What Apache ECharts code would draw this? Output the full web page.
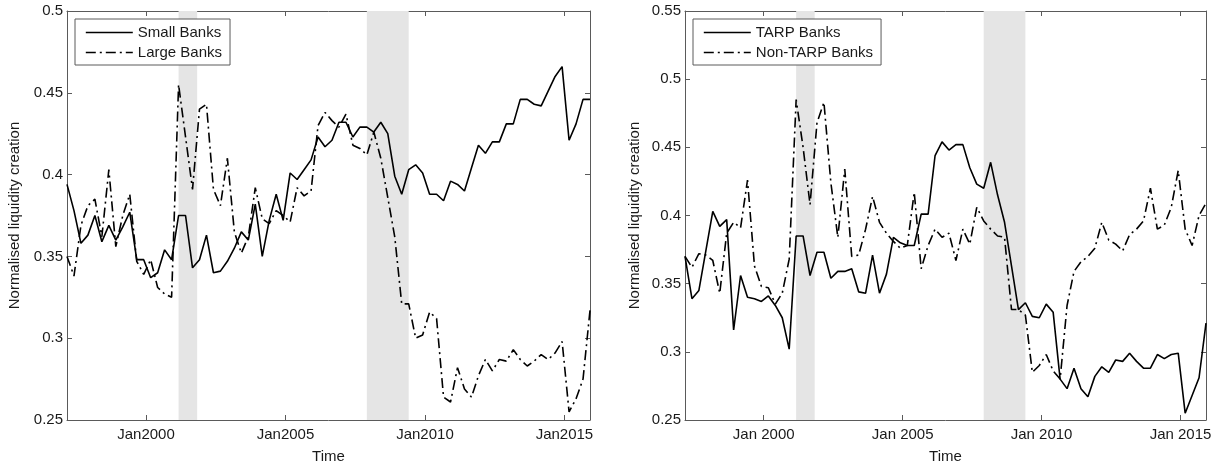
<!DOCTYPE html>
<html>
<head>
<meta charset="utf-8">
<script src="https://cdn.jsdelivr.net/npm/echarts@6/dist/echarts.min.js"></script>
<style>
html,body{margin:0;padding:0;background:#fff;}
#chart{width:1217px;height:469px;}
</style>
</head>
<body>
<div id="chart"></div>
<script>
// Quarterly observations, 1997Q1 (Mar 1997) .. 2015Q4 (Dec 2015)
const firstYear = 1997, firstMonth = 3, nQuarters = 76;

const tickYears = [2000, 2005, 2010, 2015];
const leftTickLabels = ['Jan2000', 'Jan2005', 'Jan2010', 'Jan2015'];
const rightTickLabels = ['Jan 2000', 'Jan 2005', 'Jan 2010', 'Jan 2015'];

// NBER recessions (start, end) in fractional years: Mar 2001-Nov 2001, Dec 2007-Jun 2009
const recessions = [[2001 + 2/12, 2001 + 10/12], [2007 + 11/12, 2009 + 5/12]];

const smallBanks = [
  0.394,0.378,0.358,0.363,0.375,0.359,0.369,0.360,0.368,0.377,
  0.348,0.348,0.337,0.340,0.354,0.348,0.375,0.375,0.343,0.348,
  0.363,0.340,0.341,0.347,0.355,0.365,0.360,0.382,0.350,0.372,
  0.388,0.372,0.401,0.397,0.403,0.409,0.423,0.417,0.421,0.432,
  0.432,0.423,0.429,0.429,0.426,0.432,0.425,0.399,0.388,0.403,
  0.406,0.401,0.388,0.388,0.384,0.396,0.394,0.390,0.404,0.418,
  0.413,0.420,0.420,0.431,0.431,0.446,0.446,0.443,0.442,0.451,
  0.460,0.466,0.421,0.431,0.446,0.446
];
const largeBanks = [
  0.350,0.338,0.369,0.381,0.385,0.362,0.403,0.356,0.375,0.388,
  0.347,0.339,0.348,0.331,0.327,0.325,0.455,0.423,0.391,0.440,
  0.443,0.391,0.381,0.410,0.365,0.352,0.362,0.392,0.373,0.370,
  0.378,0.375,0.371,0.392,0.387,0.390,0.430,0.438,0.433,0.429,
  0.437,0.418,0.416,0.412,0.426,0.410,0.386,0.362,0.321,0.321,
  0.300,0.302,0.316,0.312,0.264,0.261,0.282,0.269,0.264,0.277,
  0.287,0.280,0.287,0.286,0.293,0.287,0.283,0.286,0.290,0.287,
  0.291,0.298,0.255,0.263,0.275,0.317
];
const tarpBanks = [
  0.370,0.339,0.345,0.374,0.403,0.392,0.397,0.316,0.356,0.340,
  0.339,0.337,0.341,0.334,0.325,0.302,0.385,0.385,0.356,0.373,
  0.373,0.354,0.359,0.359,0.361,0.344,0.343,0.371,0.343,0.357,
  0.384,0.380,0.378,0.378,0.401,0.401,0.444,0.454,0.448,0.452,
  0.452,0.435,0.423,0.420,0.439,0.415,0.395,0.363,0.331,0.336,
  0.326,0.325,0.335,0.329,0.280,0.273,0.288,0.273,0.267,0.282,
  0.289,0.285,0.294,0.293,0.299,0.293,0.288,0.288,0.298,0.295,
  0.298,0.299,0.255,0.268,0.281,0.321
];
const nonTarpBanks = [
  0.370,0.362,0.372,0.371,0.367,0.343,0.387,0.395,0.391,0.426,
  0.363,0.348,0.347,0.335,0.343,0.368,0.485,0.450,0.408,0.468,
  0.483,0.424,0.384,0.434,0.370,0.371,0.390,0.414,0.395,0.387,
  0.381,0.376,0.378,0.417,0.361,0.378,0.390,0.384,0.387,0.367,
  0.390,0.379,0.406,0.396,0.390,0.385,0.384,0.331,0.331,0.327,
  0.285,0.290,0.298,0.286,0.280,0.334,0.359,0.366,0.370,0.376,
  0.395,0.382,0.379,0.374,0.386,0.390,0.396,0.420,0.390,0.393,
  0.406,0.433,0.390,0.378,0.400,0.409
];

const quarterX = [];
for (let i = 0; i < nQuarters; i++) quarterX.push(firstYear + (firstMonth - 1) / 12 + 0.25 * i);
const pairs = vals => vals.map((v, i) => [quarterX[i], v]);

const xMin = quarterX[0], xMax = quarterX[nQuarters - 1];
const AX = '#5a5a5a', TXT = '#1a1a1a', FONT = 'Liberation Sans, Arial, Helvetica, sans-serif';
const FS = 15;
const DASHDOT = [10, 4, 2, 4];

function xAxisDef(grid, pos, labels) {
  const m = {};
  tickYears.forEach((y, k) => { m[y] = labels ? labels[k] : ''; });
  return {
    type: 'value', gridIndex: grid, position: pos, min: xMin, max: xMax,
    name: pos === 'bottom' ? 'Time' : '', nameLocation: 'middle', nameGap: 29,
    nameTextStyle: { color: TXT, fontSize: FS, fontFamily: FONT },
    axisLine: { show: true, onZero: false, lineStyle: { color: AX, width: 1 } },
    axisTick: { show: true, inside: true, length: 5, customValues: tickYears, lineStyle: { color: AX } },
    axisLabel: { show: !!labels, customValues: tickYears, margin: 7, color: TXT, fontSize: FS, fontFamily: FONT,
      formatter: v => m[Math.round(v)] || '' },
    splitLine: { show: false }
  };
}
function yAxisDef(grid, pos, max, withLabels) {
  return {
    type: 'value', gridIndex: grid, position: pos, min: 0.25, max: max, interval: 0.05,
    name: withLabels ? 'Normalised liquidity creation' : '', nameLocation: 'middle', nameRotate: 90,
    nameGap: grid === 0 ? 45 : 43,
    nameTextStyle: { color: TXT, fontSize: FS, fontFamily: FONT },
    axisLine: { show: true, lineStyle: { color: AX, width: 1 } },
    axisTick: { show: true, inside: true, length: 5, lineStyle: { color: AX } },
    axisLabel: { show: withLabels, margin: 4, color: TXT, fontSize: FS, fontFamily: FONT,
      formatter: v => String(parseFloat(v.toFixed(2))) },
    splitLine: { show: false }
  };
}
const band = recessions.map(r => [{ xAxis: r[0] }, { xAxis: r[1] }]);
function lineSeries(name, vals, xi, yi, dashed, withBand) {
  const s = {
    name, type: 'line', xAxisIndex: xi, yAxisIndex: yi, data: pairs(vals),
    showSymbol: false, symbol: 'none', smooth: false, z: 3,
    lineStyle: { color: '#000', width: 1.6, type: dashed ? DASHDOT : 'solid' },
    itemStyle: { color: '#000' }
  };
  if (withBand) s.markArea = { silent: true, itemStyle: { color: '#e5e5e5' }, data: band, z: 1 };
  return s;
}
function legendDef(names, left) {
  return {
    data: names, orient: 'vertical', left: left, top: 19,
    itemWidth: 47, itemHeight: 14, itemGap: 5,
    padding: [6, 8, 5, 10],
    borderColor: AX, borderWidth: 1, backgroundColor: '#fff',
    textStyle: { color: TXT, fontSize: FS, fontFamily: FONT },
    itemStyle: { opacity: 0, borderWidth: 0 },
    lineStyle: { width: 1.6 }
  };
}

const chart = echarts.init(document.getElementById('chart'), null, { renderer: 'canvas' });
chart.setOption({
  animation: false,
  backgroundColor: '#fff',
  grid: [
    { left: 67, top: 11, width: 523, height: 410 },
    { left: 685, top: 11, width: 521, height: 410 }
  ],
  xAxis: [
    xAxisDef(0, 'bottom', leftTickLabels), xAxisDef(0, 'top', null),
    xAxisDef(1, 'bottom', rightTickLabels), xAxisDef(1, 'top', null)
  ],
  yAxis: [
    yAxisDef(0, 'left', 0.5, true), yAxisDef(0, 'right', 0.5, false),
    yAxisDef(1, 'left', 0.55, true), yAxisDef(1, 'right', 0.55, false)
  ],
  legend: [
    legendDef(['Small Banks', 'Large Banks'], 75),
    legendDef(['TARP Banks', 'Non-TARP Banks'], 693)
  ],
  series: [
    lineSeries('Small Banks', smallBanks, 0, 0, false, true),
    lineSeries('Large Banks', largeBanks, 0, 0, true, false),
    lineSeries('TARP Banks', tarpBanks, 2, 2, false, true),
    lineSeries('Non-TARP Banks', nonTarpBanks, 2, 2, true, false)
  ]
});
</script>
</body>
</html>
